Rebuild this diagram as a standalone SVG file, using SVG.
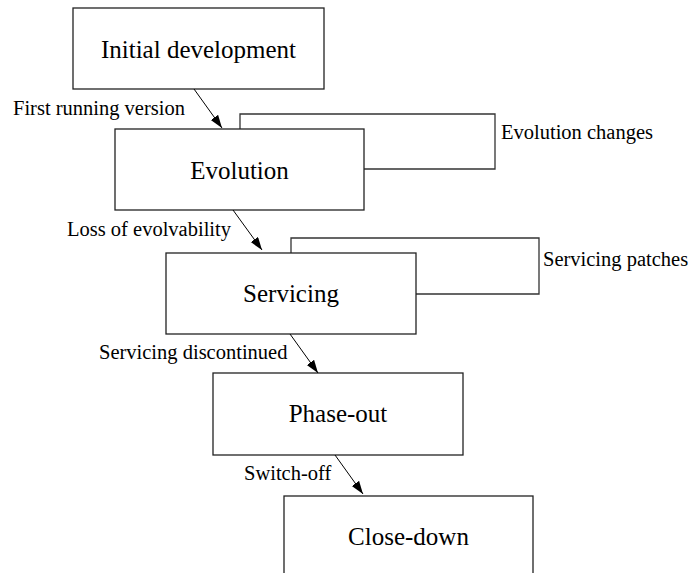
<svg xmlns="http://www.w3.org/2000/svg" width="694" height="573" viewBox="0 0 694 573">
<style>
.box{fill:#fff;stroke:#222;stroke-width:1.3}
.back{fill:none;stroke:#333;stroke-width:1.3}
.big{font-family:"Liberation Serif","Times New Roman",serif;font-size:25px;fill:#000;text-anchor:middle}
.small{font-family:"Liberation Serif","Times New Roman",serif;font-size:20.5px;fill:#000}
.conn{stroke:#000;stroke-width:1;fill:none}
</style>
<defs>
<marker id="ah" markerUnits="userSpaceOnUse" markerWidth="14" markerHeight="10" refX="13" refY="4.5" orient="auto">
<path d="M0,0 L13,4.5 L0,9 z" fill="#000"/>
</marker>
</defs>
<rect width="694" height="573" fill="#fff"/>
<g id="loops">
<g id="evolution-changes">
<polyline class="back" points="240,129 240,114 495,114 495,169 364,169"/>
<text class="small" x="501" y="139">Evolution changes</text>
</g>
<g id="servicing-patches">
<polyline class="back" points="291,253 291,238 539,238 539,294 416,294"/>
<text class="small" x="543" y="266">Servicing patches</text>
</g>
</g>
<g id="initial">
<rect class="box" x="73" y="8" width="251" height="81"/>
<text class="big" x="198.5" y="58">Initial development</text>
</g>
<g id="evolution">
<rect class="box" x="115" y="129" width="249" height="81"/>
<text class="big" x="239.5" y="179">Evolution</text>
</g>
<g id="servicing">
<rect class="box" x="166" y="253" width="250" height="81"/>
<text class="big" x="291" y="302">Servicing</text>
</g>
<g id="phaseout">
<rect class="box" x="213" y="373" width="250" height="82"/>
<text class="big" x="338" y="422">Phase-out</text>
</g>
<g id="closedown">
<rect class="box" x="284" y="496" width="249" height="90"/>
<text class="big" x="408.5" y="545">Close-down</text>
</g>
<g id="connectors">
<line class="conn" x1="194" y1="89" x2="222" y2="128" marker-end="url(#ah)"/>
<line class="conn" x1="233" y1="210" x2="262" y2="250" marker-end="url(#ah)"/>
<line class="conn" x1="290" y1="334" x2="318" y2="373" marker-end="url(#ah)"/>
<line class="conn" x1="335" y1="455" x2="363" y2="494" marker-end="url(#ah)"/>
<text class="small" x="13" y="115">First running version</text>
<text class="small" x="67" y="236">Loss of evolvability</text>
<text class="small" x="99" y="359">Servicing discontinued</text>
<text class="small" x="244" y="480">Switch-off</text>
</g>
</svg>
